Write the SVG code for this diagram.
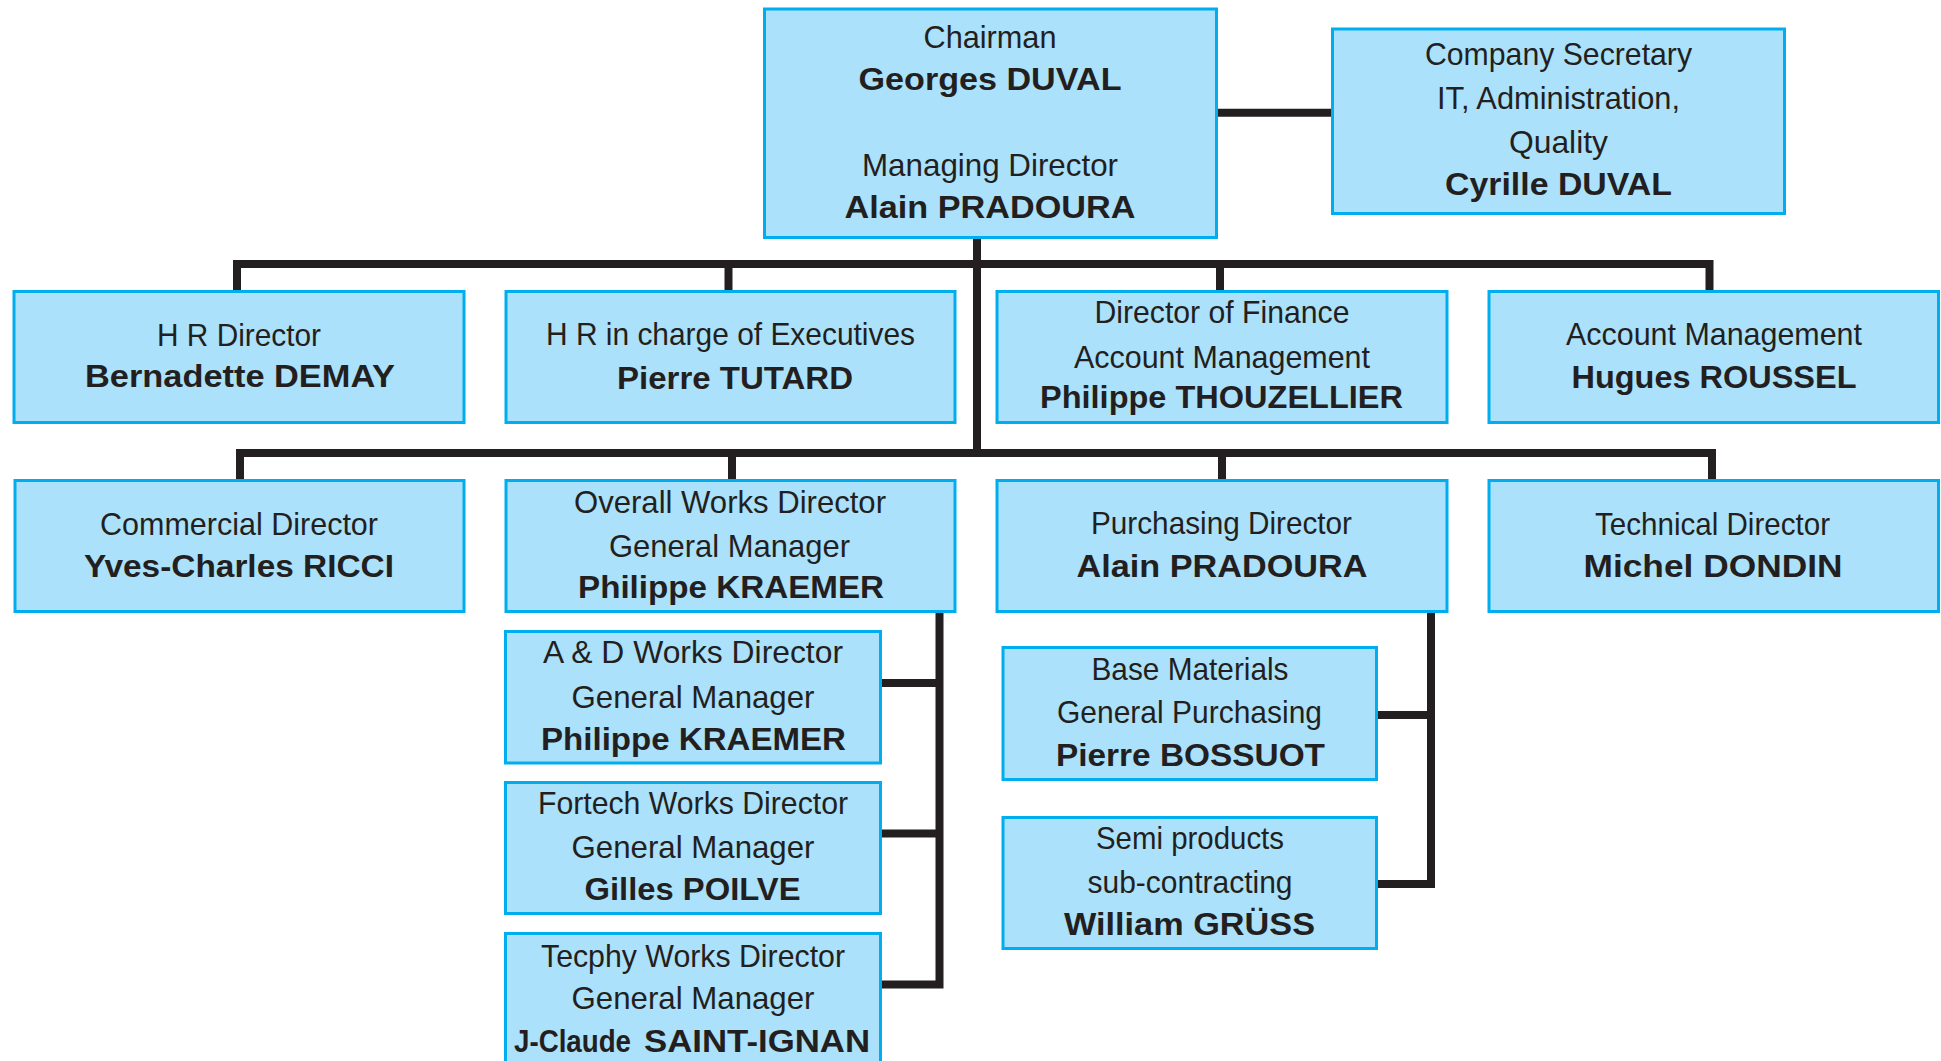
<svg xmlns="http://www.w3.org/2000/svg" width="1941" height="1061" viewBox="0 0 1941 1061">
<style>
.box{fill:#abe1fa;stroke:#00aeef;stroke-width:3}
.t{font-family:"Liberation Sans",Arial,sans-serif;font-size:32px;fill:#231f20;text-anchor:middle}
.b{font-weight:bold}
.s{text-anchor:start}
.conn path{fill:none;stroke:#231f20;stroke-width:8;stroke-linejoin:miter;stroke-linecap:butt}
</style>
<rect width="1941" height="1061" fill="#ffffff"/>
<g class="conn" id="connectors">
<path d="M1218,112.7 H1331"/>
<path d="M977,239 V457"/>
<path d="M237,290 V264 H1709.5 V290"/>
<path d="M728.5,264 V290"/>
<path d="M1220,264 V290"/>
<path d="M240,479 V453 H1712 V479"/>
<path d="M732,453 V479"/>
<path d="M1222,453 V479"/>
<path d="M939.5,613 V984.5 H882"/>
<path d="M882,683 H939.5"/>
<path d="M882,833.5 H939.5"/>
<path d="M1431,613 V884 H1378"/>
<path d="M1378,715 H1431"/>
</g>
<g id="chairman">
<rect class="box" x="764.5" y="9" width="452" height="228.5"/>
<text class="t" x="990" y="48.3" textLength="133" lengthAdjust="spacingAndGlyphs">Chairman</text>
<text class="t b" x="990" y="90" textLength="263" lengthAdjust="spacingAndGlyphs">Georges DUVAL</text>
<text class="t" x="990" y="175.7" textLength="256" lengthAdjust="spacingAndGlyphs">Managing Director</text>
<text class="t b" x="990" y="218.3" textLength="291" lengthAdjust="spacingAndGlyphs">Alain PRADOURA</text>
</g>
<g id="company-secretary">
<rect class="box" x="1332.5" y="29" width="452" height="184.5"/>
<text class="t" x="1558.5" y="65" textLength="267" lengthAdjust="spacingAndGlyphs">Company Secretary</text>
<text class="t" x="1558.5" y="109" textLength="243" lengthAdjust="spacingAndGlyphs">IT, Administration,</text>
<text class="t" x="1558.5" y="153" textLength="99" lengthAdjust="spacingAndGlyphs">Quality</text>
<text class="t b" x="1558.5" y="195" textLength="227" lengthAdjust="spacingAndGlyphs">Cyrille DUVAL</text>
</g>
<g id="hr-director">
<rect class="box" x="14" y="291.5" width="450" height="131"/>
<text class="t" x="239" y="346" textLength="164" lengthAdjust="spacingAndGlyphs">H R Director</text>
<text class="t b" x="240" y="387" textLength="310" lengthAdjust="spacingAndGlyphs">Bernadette DEMAY</text>
</g>
<g id="hr-executives">
<rect class="box" x="506" y="291.5" width="449" height="131"/>
<text class="t" x="730.5" y="345" textLength="369" lengthAdjust="spacingAndGlyphs">H R in charge of Executives</text>
<text class="t b" x="735" y="389" textLength="236" lengthAdjust="spacingAndGlyphs">Pierre TUTARD</text>
</g>
<g id="finance">
<rect class="box" x="997" y="291.5" width="450" height="131"/>
<text class="t" x="1222" y="322.7" textLength="255" lengthAdjust="spacingAndGlyphs">Director of Finance</text>
<text class="t" x="1222" y="368" textLength="296" lengthAdjust="spacingAndGlyphs">Account Management</text>
<text class="t b" x="1221.5" y="408" textLength="363" lengthAdjust="spacingAndGlyphs">Philippe THOUZELLIER</text>
</g>
<g id="account-management">
<rect class="box" x="1489" y="291.5" width="449.5" height="131"/>
<text class="t" x="1714" y="344.5" textLength="296" lengthAdjust="spacingAndGlyphs">Account Management</text>
<text class="t b" x="1714" y="387.5" textLength="285" lengthAdjust="spacingAndGlyphs">Hugues ROUSSEL</text>
</g>
<g id="commercial">
<rect class="box" x="15" y="480.5" width="449" height="131"/>
<text class="t" x="239" y="535" textLength="278" lengthAdjust="spacingAndGlyphs">Commercial Director</text>
<text class="t b" x="239" y="576.7" textLength="310" lengthAdjust="spacingAndGlyphs">Yves-Charles RICCI</text>
</g>
<g id="overall-works">
<rect class="box" x="506" y="480.5" width="449" height="131"/>
<text class="t" x="730" y="512.7" textLength="312" lengthAdjust="spacingAndGlyphs">Overall Works Director</text>
<text class="t" x="729.5" y="556.7" textLength="241" lengthAdjust="spacingAndGlyphs">General Manager</text>
<text class="t b" x="731" y="598" textLength="306" lengthAdjust="spacingAndGlyphs">Philippe KRAEMER</text>
</g>
<g id="purchasing">
<rect class="box" x="997" y="480.5" width="450" height="131"/>
<text class="t" x="1221.5" y="534.3" textLength="261" lengthAdjust="spacingAndGlyphs">Purchasing Director</text>
<text class="t b" x="1222" y="576.7" textLength="291" lengthAdjust="spacingAndGlyphs">Alain PRADOURA</text>
</g>
<g id="technical">
<rect class="box" x="1489" y="480.5" width="449.5" height="131"/>
<text class="t" x="1712.5" y="535" textLength="235" lengthAdjust="spacingAndGlyphs">Technical Director</text>
<text class="t b" x="1713" y="576.7" textLength="259" lengthAdjust="spacingAndGlyphs">Michel DONDIN</text>
</g>
<g id="ad-works">
<rect class="box" x="505.5" y="631.5" width="375" height="131.5"/>
<text class="t" x="693" y="663" textLength="300" lengthAdjust="spacingAndGlyphs">A &amp; D Works Director</text>
<text class="t" x="693" y="708" textLength="243" lengthAdjust="spacingAndGlyphs">General Manager</text>
<text class="t b" x="693.5" y="750" textLength="305" lengthAdjust="spacingAndGlyphs">Philippe KRAEMER</text>
</g>
<g id="fortech-works">
<rect class="box" x="505.5" y="782.5" width="375" height="131"/>
<text class="t" x="693" y="814" textLength="310" lengthAdjust="spacingAndGlyphs">Fortech Works Director</text>
<text class="t" x="693" y="858" textLength="243" lengthAdjust="spacingAndGlyphs">General Manager</text>
<text class="t b" x="692.5" y="900" textLength="216" lengthAdjust="spacingAndGlyphs">Gilles POILVE</text>
</g>
<g id="tecphy-works">
<rect class="box" x="505.5" y="933.5" width="375" height="150"/>
<text class="t" x="693" y="966.7" textLength="304" lengthAdjust="spacingAndGlyphs">Tecphy Works Director</text>
<text class="t" x="693" y="1009" textLength="243" lengthAdjust="spacingAndGlyphs">General Manager</text>
<text class="t b s" x="514" y="1052" font-size="27" textLength="117" lengthAdjust="spacingAndGlyphs">J-Claude</text>
<text class="t b s" x="644" y="1052" textLength="226" lengthAdjust="spacingAndGlyphs">SAINT-IGNAN</text>
</g>
<g id="base-materials">
<rect class="box" x="1003" y="647.5" width="373.5" height="132"/>
<text class="t" x="1190" y="680" textLength="197" lengthAdjust="spacingAndGlyphs">Base Materials</text>
<text class="t" x="1189.5" y="723" textLength="265" lengthAdjust="spacingAndGlyphs">General Purchasing</text>
<text class="t b" x="1190.5" y="765.7" textLength="269" lengthAdjust="spacingAndGlyphs">Pierre BOSSUOT</text>
</g>
<g id="semi-products">
<rect class="box" x="1003" y="817.5" width="373.5" height="131"/>
<text class="t" x="1190" y="849" textLength="188" lengthAdjust="spacingAndGlyphs">Semi products</text>
<text class="t" x="1190" y="893" textLength="205" lengthAdjust="spacingAndGlyphs">sub-contracting</text>
<text class="t b" x="1189.5" y="935" textLength="251" lengthAdjust="spacingAndGlyphs">William GRÜSS</text>
</g>
</svg>
